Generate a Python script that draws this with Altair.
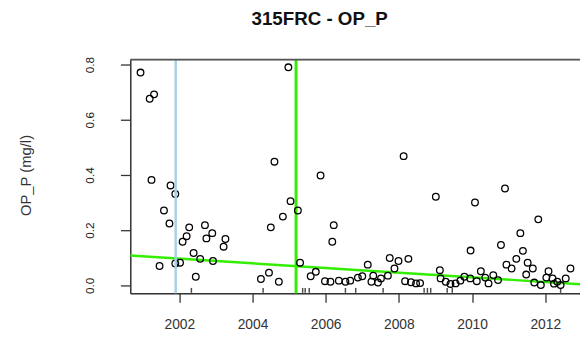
import altair as alt
import pandas as pd

chart_title = "315FRC - OP_P"
y_title = "OP_P (mg/l)"

years = [
    2000.94, 2001.31, 2001.19, 2001.24, 2001.76, 2001.89, 2001.58, 2001.73, 2002.27, 2002.70,
    2002.90, 2002.20, 2002.74, 2003.26, 2002.09, 2003.21, 2002.39, 2002.57, 2002.92, 2002.02,
    2001.89, 2001.46, 2002.45,
    2004.98, 2004.60, 2005.86, 2005.04, 2005.24, 2004.83, 2004.50, 2006.22, 2006.18, 2005.30,
    2004.45, 2004.23, 2004.72, 2005.73, 2005.59, 2005.98,
    2006.13, 2006.36, 2006.54, 2006.67, 2006.88, 2007.00, 2007.15, 2007.30, 2007.25, 2007.43,
    2007.51, 2007.70, 2007.75, 2007.99, 2008.26, 2007.88, 2008.17, 2008.33, 2008.47, 2008.58,
    2009.12, 2009.14, 2009.28, 2009.41, 2009.55, 2009.68, 2009.79, 2009.95, 2010.13, 2010.24,
    2010.36, 2010.45, 2010.58, 2010.71, 2010.94, 2011.08, 2011.21, 2011.52, 2011.66, 2011.48,
    2011.70, 2011.88, 2012.09, 2012.03, 2012.20, 2012.33, 2012.56, 2012.69, 2012.42, 2012.24,
    2008.13, 2009.01, 2010.08, 2010.90, 2011.81, 2011.32, 2011.39, 2009.96, 2010.79,
]
values = [
    0.771, 0.692, 0.676, 0.382, 0.362, 0.331, 0.271, 0.224, 0.210, 0.218,
    0.189, 0.178, 0.170, 0.168, 0.158, 0.140, 0.117, 0.096, 0.088, 0.082,
    0.079, 0.070, 0.031,
    0.790, 0.448, 0.398, 0.305, 0.271, 0.249, 0.210, 0.218, 0.158, 0.082,
    0.046, 0.023, 0.013, 0.049, 0.033, 0.015,
    0.013, 0.017, 0.013, 0.017, 0.028, 0.033, 0.075, 0.035, 0.013, 0.010,
    0.025, 0.035, 0.099, 0.088, 0.096, 0.061, 0.015, 0.011, 0.007, 0.008,
    0.055, 0.025, 0.013, 0.005, 0.007, 0.017, 0.031, 0.025, 0.015, 0.051,
    0.028, 0.007, 0.037, 0.019, 0.075, 0.061, 0.096, 0.082, 0.061, 0.039,
    0.010, 0.001, 0.051, 0.028, 0.025, 0.013, 0.025, 0.061, 0.001, 0.006,
    0.468, 0.321, 0.300, 0.351, 0.239, 0.189, 0.125, 0.126, 0.146,
]

rug_years = [2002.33, 2004.29, 2005.37, 2005.44, 2005.55, 2006.54, 2006.82, 2007.57,
             2008.69, 2008.78, 2008.87, 2009.32, 2009.46, 2012.42]

blue_year = [2001.90]
green_year = [2005.19]
trend_years = [2000.66, 2012.95]
trend_values = [0.108, 0.004]

x_ticks = [2002, 2004, 2006, 2008, 2010, 2012]
y_ticks = [0.0, 0.2, 0.4, 0.6, 0.8]

W, H = 456, 237
FONT = "Liberation Sans"

xs = alt.Scale(domain=[2000.66, 2012.95], nice=False, zero=False)
ys = alt.Scale(domain=[-0.029, 0.818], nice=False, zero=False)

pts_df = pd.DataFrame({"year": years, "value": values})
rug_df = pd.DataFrame({"year": rug_years})
blue_df = pd.DataFrame({"year": blue_year})
green_df = pd.DataFrame({"year": green_year})
trend_df = pd.DataFrame({"year": trend_years, "value": trend_values})

x_axis = alt.Axis(values=x_ticks, format="d", grid=False, tickSize=9, tickOffset=0,
                  labelPadding=16, labelFontSize=14, labelFont=FONT, labelColor="#333",
                  domainColor="#333", domainWidth=1.5, tickColor="#333", tickWidth=1.3, title=None)
y_axis = alt.Axis(values=y_ticks, format=".1f", grid=False, tickSize=10,
                  labelAngle=270, labelAlign="center", labelBaseline="bottom",
                  labelPadding=24, labelFontSize=12, labelFont=FONT, labelColor="#222",
                  domainColor="#333", domainWidth=1.5, tickColor="#333", tickWidth=1.3,
                  title=y_title, titleFont=FONT, titleFontSize=15, titleFontWeight="normal",
                  titleColor="#333", titleAngle=270, titleX=-106, titleY=117,
                  titleAlign="center", titleBaseline="middle")

base_pts = alt.Chart(pts_df).mark_point(
    shape="circle", filled=False, color="black", size=45, strokeWidth=1.3, opacity=1
).encode(
    x=alt.X("year:Q", scale=xs, axis=x_axis),
    y=alt.Y("value:Q", scale=ys, axis=y_axis),
)

blue_rule = alt.Chart(blue_df).mark_rule(color="#a6d1e6", strokeWidth=2.5).encode(
    x=alt.X("year:Q", scale=xs)
)
green_rule = alt.Chart(green_df).mark_rule(color="#33ee00", strokeWidth=3).encode(
    x=alt.X("year:Q", scale=xs)
)
trend = alt.Chart(trend_df).mark_line(color="#33ee00", strokeWidth=2.5, clip=True).encode(
    x=alt.X("year:Q", scale=xs),
    y=alt.Y("value:Q", scale=ys),
)
rug = alt.Chart(rug_df).mark_tick(color="black", orient="vertical", thickness=1.5, size=5).encode(
    x=alt.X("year:Q", scale=xs),
    y=alt.value(H - 3),
)
top_line = alt.Chart(pd.DataFrame({"a": [0]})).mark_rule(color="#555", strokeWidth=1.8).encode(
    x=alt.value(0), x2=alt.value(W), y=alt.value(0)
)

chart = alt.layer(green_rule, trend, base_pts, blue_rule, rug, top_line).properties(
    width=W,
    height=H,
    title=alt.TitleParams(chart_title, font=FONT, fontSize=19, fontWeight="bold",
                          color="#111", anchor="middle", dx=-36, offset=28),
    padding={"left": 124, "top": 50, "right": 0, "bottom": 44},
    autosize=alt.AutoSizeParams(type="none"),
).configure_view(stroke=None).configure(background="white")

chart.save("out.html", embed_options={"renderer": "svg", "actions": False})
